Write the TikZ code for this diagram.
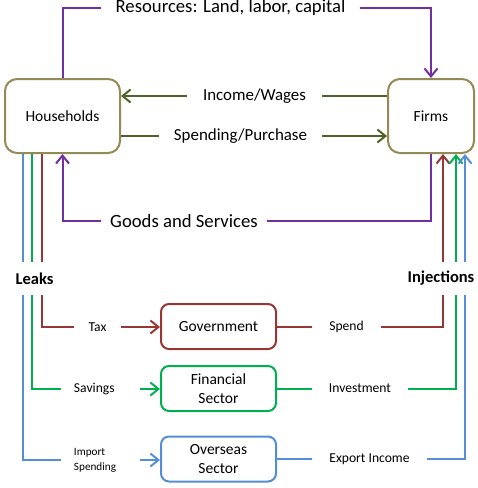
\documentclass[tikz,border=0pt]{standalone}
\usepackage{fontspec}
\setmainfont{Carlito}
\usetikzlibrary{arrows.meta}
\definecolor{colpurple}{HTML}{7030A0}
\definecolor{cololive}{HTML}{4F6228}
\definecolor{colbox}{HTML}{948A54}
\definecolor{colred}{HTML}{953735}
\definecolor{colgreen}{HTML}{00B050}
\definecolor{colblue}{HTML}{558ED5}

\begin{document}
\begin{tikzpicture}[x=1pt, y=-1pt, line width=2pt,
  agent/.style={draw=colbox, rounded corners=12pt, minimum height=74pt, inner sep=0pt, font=\fontsize{15.5}{19}\selectfont},
  sector/.style={draw, rounded corners=8pt, minimum width=115pt, minimum height=45pt, inner sep=0pt, align=center, font=\fontsize{15.5}{19}\selectfont},
  biglbl/.style={inner sep=0pt, font=\fontsize{18.7}{22}\selectfont},
  midlbl/.style={inner sep=0pt, font=\fontsize{16.9}{20}\selectfont},
  smlbl/.style={inner sep=0pt, font=\fontsize{13.6}{16}\selectfont},
  sidelbl/.style={inner xsep=12pt, inner ysep=0pt, text width=53pt, align=left},
  head/.style={inner sep=0pt, minimum height=31pt, font=\fontsize{16.5}{20}\selectfont\bfseries},
  tip/.style={-{Straight Barb[length=8pt,width=13pt]}}]
  \useasboundingbox (0,0) rectangle (478,488);

  \node[agent, minimum width=115pt] (hh) at (62.5,116) {Households};
  \node[agent, minimum width=86pt] (firms) at (431,116) {Firms};
  \node[sector, draw=colred] (gov) at (218.5,326.5) {Government};
  \node[sector, draw=colgreen] (fin) at (218.5,388.5) {Financial\\Sector};
  \node[sector, draw=colblue] (ovs) at (218.5,459) {Overseas\\Sector};

  \node[biglbl, minimum width=257pt] (res) at (230.5,8) {Resources: Land, labor, capital};
  \node[midlbl, minimum width=133pt] (inc) at (254.5,96) {Income/Wages};
  \node[midlbl, minimum width=161pt] (spp) at (240.5,136) {Spending/Purchase};
  \node[biglbl, minimum width=164pt] (gs) at (184,221) {Goods and Services};
  \node[head] (leaks) at (34.5,278.5) {Leaks};
  \node[head] (inj) at (441,278.5) {Injections};
  \node[smlbl, minimum width=45pt] (tax) at (97.5,327) {Tax};
  \node[smlbl, minimum width=67pt] (spd) at (346.5,326.5) {Spend};
  \node[smlbl, sidelbl] (sav) at (100.5,389) {Savings};
  \node[smlbl, minimum width=94pt] (inv) at (360,388.5) {Investment};
  \node[sidelbl, font=\fontsize{11.2}{15}\selectfont] (imp) at (100.5,460) {Import\\Spending};
  \node[smlbl, minimum width=113pt] (exp) at (369.5,459) {Export Income};

  \coordinate (lb) at ([xshift=19pt]hh.south west);
  \coordinate (lg) at ([xshift=28pt]hh.south west);
  \coordinate (lr) at ([xshift=38pt]hh.south west);
  \coordinate (rr) at ([xshift=-32pt]firms.south east);
  \coordinate (rg) at ([xshift=-19pt]firms.south east);
  \coordinate (rb) at ([xshift=-10pt]firms.south east);

  \draw[colpurple] (hh.north) |- (res.west);
  \draw[colpurple, tip] (res.east) -| (firms.north);
  \draw[cololive] (firms.west |- inc) -- (inc.east);
  \draw[cololive, tip] (inc.west) -- (inc.west -| hh.east);
  \draw[cololive] (hh.east |- spp) -- (spp.west);
  \draw[cololive, tip] (spp.east) -- (spp.east -| firms.west);
  \draw[colpurple] (firms.south) |- (gs.east);
  \draw[colpurple, tip] (gs.west) -| (hh.south);

  \draw[colred] (lr) -- (lr |- leaks.north);
  \draw[colred] (lr |- leaks.south) |- (tax.west);
  \draw[colred, tip] (tax.east) -- (tax.east -| gov.west);
  \draw[colred] (gov.east) -- (spd.west);
  \draw[colred] (spd.east) -| (rr |- inj.south);
  \draw[colred, tip] (rr |- inj.north) -- (rr);

  \draw[colgreen] (lg) -- (lg |- leaks.north);
  \draw[colgreen] (lg |- leaks.south) |- (sav.west);
  \draw[colgreen, tip] (sav.east) -- (sav.east -| fin.west);
  \draw[colgreen] (fin.east) -- (inv.west);
  \draw[colgreen] (inv.east) -| (rg |- inj.south);
  \draw[colgreen, tip] (rg |- inj.north) -- (rg);

  \draw[colblue] (lb) -- (lb |- leaks.north);
  \draw[colblue] (lb |- leaks.south) |- (imp.west);
  \draw[colblue, tip] (imp.east) -- (imp.east -| ovs.west);
  \draw[colblue] (ovs.east) -- (exp.west);
  \draw[colblue] (exp.east) -| (rb |- inj.south);
  \draw[colblue, tip] (rb |- inj.north) -- (rb);
\end{tikzpicture}
\end{document}
